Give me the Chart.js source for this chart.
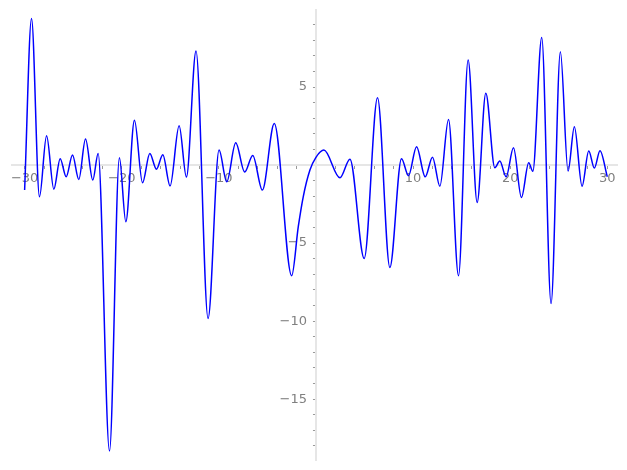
<!DOCTYPE html>
<html>
<head>
<meta charset="utf-8">
<script src="https://cdn.jsdelivr.net/npm/chart.js@4.4.1/dist/chart.umd.min.js"></script>
<style>
  html, body { margin: 0; padding: 0; background: #fff; }
  canvas { display: block; }
</style>
</head>
<body>
<canvas id="chart" width="627" height="470"></canvas>
<script>
// values (extrema + a few shoulder points)
const xValues = [
  -30, -29.29, -28.47, -27.74, -26.99, -26.34, -25.72, -25.07, -24.42, -23.73,
  -22.98, -22.43, -21.26, -20.24, -19.58, -18.69, -17.86, -17.11, -16.43, -15.77,
  -15.02, -14.09, -13.34, -12.35, -11.11, -9.98, -9.19, -8.26, -7.34, -6.51,
  -5.52, -4.29, -2.5, -1.82, -1.3, -0.62, 0, 0.82, 2.47, 3.5,
  4.97, 6.34, 7.61, 8.81, 9.53, 10.36, 11.25, 12.0, 12.76, 13.65,
  14.68, 15.67, 16.6, 17.49, 18.42, 18.93, 19.58, 20.34, 21.16, 21.91,
  22.33, 23.25, 24.21, 25.17, 25.96, 26.61, 27.4, 28.09, 28.67, 29.25, 30
];
const yValues = [
  -1.6, 9.4, -2.03, 1.88, -1.54, 0.41, -0.75, 0.64, -0.92, 1.67,
  -0.96, 0.75, -18.33, 0.47, -3.63, 2.88, -1.13, 0.75, -0.26, 0.66,
  -1.33, 2.52, -0.77, 7.31, -9.83, 0.96, -1.07, 1.43, -0.45, 0.62,
  -1.6, 2.67, -7.09, -3.95, -2.0, -0.32, 0.5, 0.96, -0.81, 0.38,
  -5.98, 4.31, -6.56, 0.41, -0.68, 1.18, -0.75, 0.51, -1.35, 2.93,
  -7.09, 6.73, -2.39, 4.6, -0.17, 0.26, -0.75, 1.11, -2.07, 0.15,
  -0.4, 8.18, -8.87, 7.26, -0.38, 2.46, -1.35, 0.9, -0.19, 0.92, -0.75
];
const xTickLabels = [-30, -20, -10, 10, 20, 30];
const yTickLabels = [-15, -10, -5, 5];

const AXIS_GREY = "#e6e6e6";
const TEXT_GREY = "#808080";

function fmt(v) {
  return v < 0 ? "\u2212" + Math.abs(v) : String(v);
}

const points = xValues.map((x, i) => ({ x: x, y: yValues[i] }));

// move the (zero-width) left y axis over to x = 0 so it crosses at the origin;
// keep some room on its left so the tick labels are not clipped
const crossAtOrigin = {
  id: "crossAtOrigin",
  afterLayout(chart) {
    const y = chart.scales.y;
    const px = chart.scales.x.getPixelForValue(0);
    y.left = px - 60;
    y.right = px;
  }
};

new Chart(document.getElementById("chart").getContext("2d"), {
  type: "line",
  data: {
    datasets: [{
      data: points,
      borderColor: "#0000ff",
      borderWidth: 1.5,
      pointRadius: 0,
      fill: false,
      cubicInterpolationMode: "monotone"
    }]
  },
  options: {
    responsive: false,
    animation: false,
    layout: { padding: { left: 12, right: 10, top: 10, bottom: 10 } },
    plugins: {
      legend: { display: false },
      tooltip: { enabled: false }
    },
    scales: {
      x: {
        type: "linear",
        position: { y: 0 },
        min: -31.3,
        max: 31.0,
        afterFit: s => { s.height = 0; s.paddingLeft = 0; s.paddingRight = 0; },
        border: { color: AXIS_GREY, width: 2 },
        grid: { drawOnChartArea: false, drawTicks: true, tickLength: 3, tickColor: "#999" },
        ticks: {
          stepSize: 2,
          includeBounds: false,
          autoSkip: false,
          maxRotation: 0,
          padding: 3,
          color: TEXT_GREY,
          font: { family: "DejaVu Sans", size: 13 },
          callback: v => xTickLabels.includes(v) ? fmt(v) : ""
        }
      },
      y: {
        type: "linear",
        position: "left",
        min: -18.9,
        max: 9.94,
        afterFit: s => { s.width = 0; s.paddingTop = 0; s.paddingBottom = 0; },
        border: { color: AXIS_GREY, width: 2 },
        grid: { drawOnChartArea: false, drawTicks: true, tickLength: 3, tickColor: "#999" },
        ticks: {
          stepSize: 1,
          includeBounds: false,
          autoSkip: false,
          padding: 6,
          color: TEXT_GREY,
          font: { family: "DejaVu Sans", size: 13 },
          callback: v => yTickLabels.includes(v) ? fmt(v) : ""
        }
      }
    }
  },
  plugins: [crossAtOrigin]
});
</script>
</body>
</html>
